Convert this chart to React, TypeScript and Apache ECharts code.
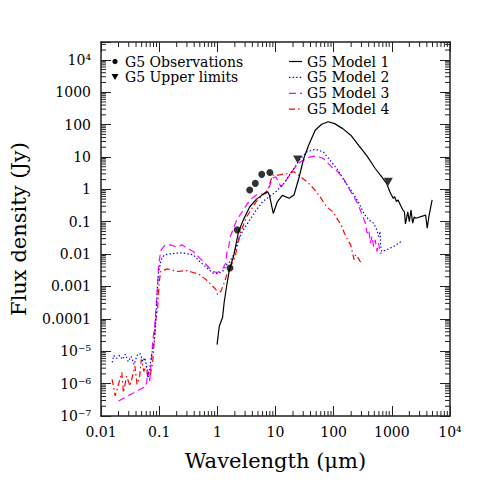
import React, { useEffect, useRef } from "react";
import * as echarts from "echarts";

// ---- Data (wavelength in micron, flux density in Jy) ----
const obsWave = [1.65, 2.2, 3.6, 4.5, 5.8, 8.0];
const obsFlux = [0.0037, 0.056, 0.95, 1.53, 2.9, 3.3];

const ulWave = [24, 870];
const ulFlux = [8.4, 1.7];

const m1Wave = [0.99, 1.08, 1.23, 1.31, 1.44, 1.63, 1.9, 2.31, 2.8, 3.62, 4.68, 6.46, 7.34, 7.84, 9.15, 10.8, 13.1, 17.2, 20.8, 25.2, 30.6, 37.1, 48.1, 62.1, 80.4, 104, 143, 197, 273, 376, 518, 671, 813, 925, 986, 1054, 1120, 1197, 1277, 1452, 1550, 1648, 1714, 1879, 2000, 2135, 2279, 2423, 2588, 3810, 4065, 4323, 4930];
const m1Flux = [1.6e-5, 5.9e-5, 1.1e-4, 3.2e-4, 1.0e-3, 3.7e-3, 8.4e-3, 0.049, 0.114, 0.29, 0.49, 0.75, 0.84, 0.67, 0.18, 0.42, 0.65, 0.53, 0.67, 2.2, 9.0, 23, 67, 102, 122, 107, 75, 47, 22, 10.6, 4.4, 2.44, 1.53, 0.84, 0.67, 0.53, 0.59, 0.42, 0.47, 0.29, 0.23, 0.2, 0.085, 0.2, 0.1, 0.23, 0.09, 0.14, 0.128, 0.16, 0.063, 0.14, 0.47];

const m2Wave = [0.0156, 0.0165, 0.0185, 0.0208, 0.0234, 0.0262, 0.0294, 0.033, 0.0371, 0.0417, 0.0468, 0.0525, 0.0567, 0.0613, 0.065, 0.0689, 0.0744, 0.0835, 0.0891, 0.0927, 0.0975, 0.108, 0.123, 0.157, 0.203, 0.246, 0.299, 0.386, 0.499, 0.646, 0.836, 1.01, 1.23, 1.45, 1.63, 1.9, 2.31, 2.8, 3.62, 4.68, 6.05, 7.84, 10.1, 14.1, 20.8, 27.0, 34.8, 48.1, 66.2, 91.2, 118, 163, 225, 273, 331, 402, 487, 553, 591, 628, 645, 670, 813, 1054, 1452];
const m2Flux = [4.5e-6, 7.4e-6, 6.0e-6, 7.4e-6, 5.6e-6, 8.0e-6, 4.8e-6, 6.9e-6, 3.9e-6, 7.4e-6, 8.6e-6, 4.8e-6, 6.3e-6, 3.2e-6, 1.6e-6, 3.2e-6, 8e-6, 2.3e-5, 1.6e-4, 8.0e-4, 2.7e-3, 6.7e-3, 9.5e-3, 0.0102, 0.0107, 0.011, 0.0102, 0.0095, 0.0059, 0.0039, 0.0026, 0.0025, 0.0029, 0.0047, 0.0058, 0.0095, 0.0275, 0.056, 0.114, 0.23, 0.42, 0.59, 0.84, 1.56, 4.4, 9.0, 14.4, 17.4, 14.4, 7.1, 3.9, 1.53, 0.67, 0.37, 0.18, 0.114, 0.09, 0.056, 0.035, 0.05, 0.017, 0.012, 0.0136, 0.017, 0.0244];

const m3Wave = [0.02, 0.0597, 0.0645, 0.0689, 0.0781, 0.0835, 0.0891, 0.0949, 0.0986, 0.108, 0.123, 0.157, 0.203, 0.246, 0.299, 0.386, 0.499, 0.646, 0.836, 1.01, 1.23, 1.4, 1.45, 1.57, 1.67, 2.16, 2.8, 3.62, 4.68, 6.88, 7.84, 8.91, 10.1, 12.5, 16.1, 20.8, 27.0, 39.6, 51.2, 66.2, 91.2, 118, 153, 197, 256, 310, 352, 376, 402, 427, 456, 487, 518, 553, 591, 628, 670];
const m3Flux = [2.9e-7, 8.4e-7, 2.4e-6, 1.2e-6, 2.3e-5, 5.9e-5, 2.4e-4, 1.6e-3, 5.3e-3, 0.0136, 0.018, 0.0193, 0.0164, 0.0193, 0.0153, 0.012, 0.0075, 0.0047, 0.0029, 0.0027, 0.0035, 0.0053, 0.0107, 0.017, 0.035, 0.114, 0.23, 0.47, 0.67, 0.75, 1.2, 2.2, 2.44, 1.2, 2.2, 4.4, 7.1, 10.1, 10.8, 9.0, 5.0, 3.5, 1.93, 0.84, 0.38, 0.16, 0.09, 0.044, 0.056, 0.022, 0.035, 0.017, 0.0275, 0.012, 0.022, 0.0107, 0.0107];

const m4Wave = [0.0155, 0.0176, 0.02, 0.0228, 0.0243, 0.0276, 0.0315, 0.0344, 0.0382, 0.0417, 0.0463, 0.0492, 0.0546, 0.0597, 0.0637, 0.068, 0.0773, 0.0824, 0.0876, 0.0937, 0.1, 0.106, 0.138, 0.203, 0.299, 0.386, 0.499, 0.646, 0.783, 0.95, 1.01, 1.15, 1.31, 1.49, 1.69, 2.03, 2.46, 3.18, 4.68, 6.46, 7.34, 8.34, 8.91, 10.8, 14.9, 20.8, 27.0, 34.8, 45.0, 58.3, 75.2, 97.5, 118, 134, 153, 174, 197, 211, 225, 239, 256, 287, 310];
const m4Flux = [1.36e-6, 4.2e-7, 9.5e-7, 2.2e-6, 5.3e-7, 1.7e-6, 8.4e-7, 1.56e-6, 3.5e-6, 9.5e-7, 1.7e-6, 5.6e-6, 2.4e-6, 3.5e-6, 1.56e-6, 1.36e-6, 4.4e-6, 2.3e-5, 9.5e-5, 1.9e-4, 1.28e-3, 2.9e-3, 3.5e-3, 2.9e-3, 3.1e-3, 2.7e-3, 2.3e-3, 1.6e-3, 1.14e-3, 8.0e-4, 5.6e-4, 7.1e-4, 1.28e-3, 2.6e-3, 4.1e-3, 8.4e-3, 0.044, 0.14, 0.42, 0.75, 0.95, 1.93, 2.75, 2.75, 2.96, 3.5, 2.44, 1.71, 1.07, 0.59, 0.29, 0.2, 0.114, 0.08, 0.044, 0.0275, 0.019, 0.0107, 0.0067, 0.0095, 0.0084, 0.0058, 0.0067];

// ---- Axis ticks ----
const xMinExp = -2;
const xMaxExp = 4;
const yMinExp = -7;
const yMaxLog = 4.55;
const xTickLabels = ["0.01", "0.1", "1", "10", "100", "1000", "10\u2074"];
const yTickLabels = ["10\u207b\u2077", "10\u207b\u2076", "10\u207b\u2075", "0.0001", "0.001", "0.01", "0.1", "1", "10", "100", "1000", "10\u2074"];

const legendLeft = ["G5 Observations", "G5 Upper limits"];
const legendRight = ["G5 Model 1", "G5 Model 2", "G5 Model 3", "G5 Model 4"];

const FONT = '"DejaVu Serif", serif';

const toLog = (w: number[], f: number[]) => w.map((v, i) => [Math.log10(v), Math.log10(f[i])]);

const styles = [
  { color: "#000000", type: "solid" as any },
  { color: "#0000ff", type: [1.4, 2.2] as any },
  { color: "#ff00ff", type: [7, 4] as any },
  { color: "#ff0000", type: [6, 3, 1.5, 3] as any },
];

export default function App() {
  const ref = useRef<HTMLDivElement>(null);
  useEffect(() => {
    if (!ref.current) return;
    const chart = echarts.init(ref.current, null, { renderer: "svg" });

    const minor: number[][] = [];
    for (let e = xMinExp; e < xMaxExp; e++) {
      for (let k = 2; k <= 9; k++) minor.push([e + Math.log10(k), 0]);
    }
    for (let e = yMinExp; e <= Math.floor(yMaxLog); e++) {
      for (let k = 2; k <= 9; k++) {
        const v = e + Math.log10(k);
        if (v < yMaxLog) minor.push([v, 1]);
      }
    }

    const fmt = (labels: string[], base: number) => (v: number) => {
      const r = Math.round(v);
      if (Math.abs(v - r) > 1e-6) return "";
      return labels[r - base] ?? "";
    };

    const lineSeries = [
      [m1Wave, m1Flux],
      [m2Wave, m2Flux],
      [m3Wave, m3Flux],
      [m4Wave, m4Flux],
    ].map(([w, f], i) => ({
      type: "line",
      name: legendRight[i],
      data: toLog(w, f),
      showSymbol: false,
      symbol: "none",
      lineStyle: { color: styles[i].color, width: 1.2, type: styles[i].type },
      z: 4 - i,
    }));

    const axisLine = { show: true, onZero: false, lineStyle: { color: "#222", width: 1.5 } };
    const axisTick = { show: true, inside: true, length: 10, lineStyle: { color: "#222", width: 1 } };

    const legendGraphics: any[] = [];
    const lyL = [61.5, 77];
    const legendFont = 14;
    legendGraphics.push({ type: "circle", shape: { cx: 115, cy: lyL[0], r: 2.6 }, style: { fill: "#000" } });
    legendGraphics.push({
      type: "polygon",
      shape: { points: [[111.5, lyL[1] - 3], [118.5, lyL[1] - 3], [115, lyL[1] + 3]] },
      style: { fill: "#000" },
    });
    legendLeft.forEach((t, i) => {
      legendGraphics.push({
        type: "text",
        x: 125,
        y: lyL[i],
        style: { text: t, fontSize: legendFont, lineHeight: 14, fontFamily: FONT, fill: "#000", verticalAlign: "middle", align: "left" },
      });
    });
    legendRight.forEach((t, i) => {
      const y = 61.5 + i * 15.9;
      legendGraphics.push({
        type: "line",
        shape: { x1: 289, y1: y, x2: 302, y2: y },
        style: { stroke: styles[i].color, lineWidth: 1.2, lineDash: styles[i].type === "solid" ? null : styles[i].type },
      });
      legendGraphics.push({
        type: "text",
        x: 307,
        y,
        style: { text: t, fontSize: legendFont, lineHeight: 14, fontFamily: FONT, fill: "#000", verticalAlign: "middle", align: "left" },
      });
    });

    chart.setOption({
      animation: false,
      backgroundColor: "#fff",
      textStyle: { fontFamily: FONT },
      grid: { left: 92, top: 42, right: 41, bottom: 75, containLabel: false },
      xAxis: [
        {
          type: "value",
          min: xMinExp,
          max: xMaxExp,
          interval: 1,
          position: "bottom",
          axisLine,
          axisTick,
          splitLine: { show: false },
          axisLabel: { formatter: fmt(xTickLabels, xMinExp), fontSize: 14, color: "#000", margin: 9, fontFamily: FONT },
          name: "Wavelength (\u03bcm)",
          nameLocation: "middle",
          nameGap: 34,
          nameTextStyle: { fontSize: 21, color: "#000", fontFamily: FONT, verticalAlign: "top" },
        },
        {
          type: "value",
          min: xMinExp,
          max: xMaxExp,
          interval: 1,
          position: "top",
          axisLine,
          axisTick,
          splitLine: { show: false },
          axisLabel: { show: false },
        },
      ],
      yAxis: [
        {
          type: "value",
          min: yMinExp,
          max: yMaxLog,
          interval: 1,
          position: "left",
          axisLine,
          axisTick,
          splitLine: { show: false },
          axisLabel: { formatter: fmt(yTickLabels, yMinExp), fontSize: 14, color: "#000", margin: 10, fontFamily: FONT },
          name: "Flux density (Jy)",
          nameLocation: "middle",
          nameGap: 72,
          nameTextStyle: { fontSize: 21, color: "#000", fontFamily: FONT },
        },
        {
          type: "value",
          min: yMinExp,
          max: yMaxLog,
          interval: 1,
          position: "right",
          axisLine,
          axisTick,
          splitLine: { show: false },
          axisLabel: { show: false },
        },
      ],
      series: [
        ...lineSeries,
        {
          type: "scatter",
          name: legendLeft[0],
          data: toLog(obsWave, obsFlux),
          symbol: "circle",
          symbolSize: 7,
          itemStyle: { color: "#000" },
          z: 10,
        },
        {
          type: "scatter",
          name: legendLeft[1],
          data: toLog(ulWave, ulFlux),
          symbol: "triangle",
          symbolRotate: 180,
          symbolSize: [9, 8],
          itemStyle: { color: "#000" },
          z: 10,
        },
        {
          type: "custom",
          silent: true,
          data: minor,
          z: 20,
          renderItem: (params: any, api: any) => {
            const cs = params.coordSys;
            const v = api.value(0);
            const kind = api.value(1);
            const st = { stroke: "#222", lineWidth: 1 };
            if (kind === 0) {
              const px = api.coord([v, yMinExp])[0];
              return {
                type: "group",
                children: [
                  { type: "line", shape: { x1: px, y1: cs.y + cs.height, x2: px, y2: cs.y + cs.height - 5 }, style: st },
                  { type: "line", shape: { x1: px, y1: cs.y, x2: px, y2: cs.y + 5 }, style: st },
                ],
              };
            }
            const py = api.coord([xMinExp, v])[1];
            return {
              type: "group",
              children: [
                { type: "line", shape: { x1: cs.x, y1: py, x2: cs.x + 5, y2: py }, style: st },
                { type: "line", shape: { x1: cs.x + cs.width, y1: py, x2: cs.x + cs.width - 5, y2: py }, style: st },
              ],
            };
          },
        },
      ],
      graphic: legendGraphics,
    });

    return () => chart.dispose();
  }, []);

  return <div ref={ref} style={{ position: "fixed", left: 0, top: 0, width: 491, height: 491 }} />;
}
